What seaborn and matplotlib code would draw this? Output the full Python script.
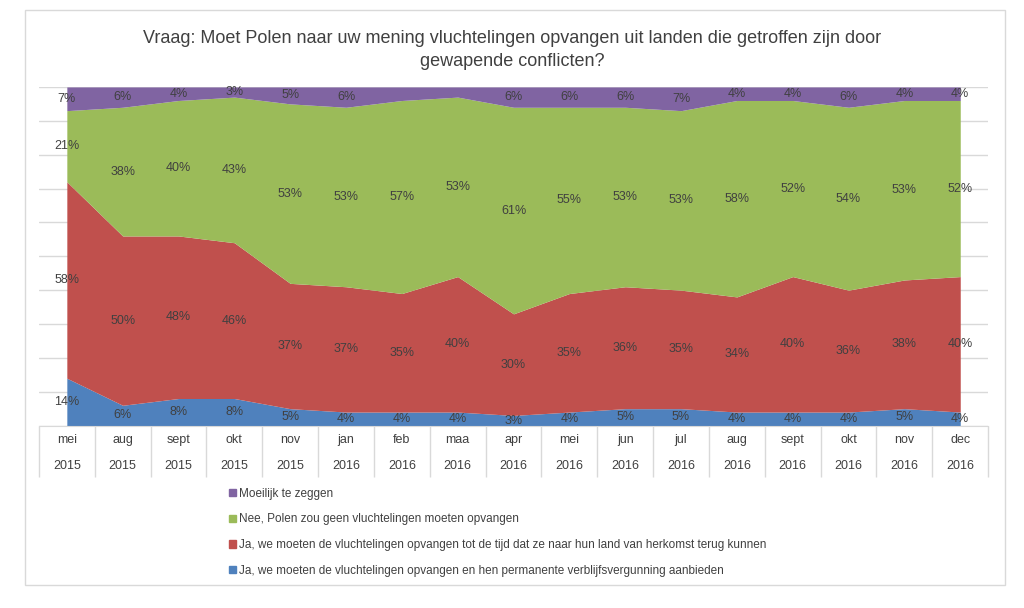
import matplotlib
matplotlib.use("Agg")
import matplotlib.pyplot as plt
import matplotlib.patches as mpatches
import matplotlib.transforms as mtransforms
import numpy as np
import seaborn as sns

# data
months = ['mei', 'aug', 'sept', 'okt', 'nov', 'jan', 'feb', 'maa', 'apr',
          'mei', 'jun', 'jul', 'aug', 'sept', 'okt', 'nov', 'dec']
years = ['2015'] * 5 + ['2016'] * 12
ja_permanent = [14, 6, 8, 8, 5, 4, 4, 4, 3, 4, 5, 5, 4, 4, 4, 5, 4]
ja_tijdelijk = [58, 50, 48, 46, 37, 37, 35, 40, 30, 35, 36, 35, 34, 40, 36, 38, 40]
nee = [21, 38, 40, 43, 53, 53, 57, 53, 61, 55, 53, 53, 58, 52, 54, 53, 52]
moeilijk = [7, 6, 4, 3, 5, 6, 4, 3, 6, 6, 6, 7, 4, 4, 6, 4, 4]
# feb and maa have no label for "Moeilijk te zeggen" in the original
moeilijk_shown = [True] * 6 + [False, False] + [True] * 9

series_names = ['Ja, we moeten de vluchtelingen opvangen en hen permanente verblijfsvergunning aanbieden',
                'Ja, we moeten de vluchtelingen opvangen tot de tijd dat ze naar hun land van herkomst terug kunnen',
                'Nee, Polen zou geen vluchtelingen moeten opvangen',
                'Moeilijk te zeggen']
colors = ['#4F81BD', '#C0504D', '#9BBB59', '#8064A2']

sns.set_style('white')
plt.rcParams['font.family'] = ['Liberation Sans', 'DejaVu Sans']

fig = plt.figure(figsize=(10.24, 6.08), dpi=100)
ax = fig.add_axes([0.038, 0.300, 0.927, 0.557])

x = np.arange(len(months))
series = [ja_permanent, ja_tijdelijk, nee, moeilijk]

ax.set_ylim(0, 100)
ax.set_xlim(-0.5, len(months) - 0.5)
ax.yaxis.grid(True, color='#d9d9d9', linewidth=1)
ax.set_yticks(np.arange(0, 101, 10))
ax.set_yticklabels([])
ax.tick_params(axis='y', length=0)
ax.set_axisbelow(True)

ax.stackplot(x, *series, colors=colors, linewidth=0, zorder=2)

# data labels in the middle of every band
bottom = np.zeros(len(months))
for k, vals in enumerate(series):
    vals = np.array(vals, dtype=float)
    mids = bottom + vals / 2
    for i, v in enumerate(vals):
        if k == 3 and not moeilijk_shown[i]:
            continue
        ax.text(x[i], mids[i], f'{int(v)}%', ha='center', va='center',
                fontsize=9, color='#404040', zorder=5)
    bottom += vals

# two-level category axis
ax.set_xticks(np.arange(-0.5, len(months), 1.0))
ax.set_xticklabels([])
ax.tick_params(axis='x', length=37, width=1, color='#d9d9d9', direction='out', bottom=True)
trans = mtransforms.blended_transform_factory(ax.transData, ax.transAxes)
for i in range(len(months)):
    ax.text(i, -0.043, months[i], transform=trans, ha='center', va='center',
            fontsize=9, color='#404040')
    ax.text(i, -0.12, years[i], transform=trans, ha='center', va='center',
            fontsize=9, color='#404040')

for s in ['top', 'right', 'left']:
    ax.spines[s].set_visible(False)
ax.spines['bottom'].set_color('#d9d9d9')

fig.text(0.5, 0.918, 'Vraag: Moet Polen naar uw mening vluchtelingen opvangen uit landen die getroffen zijn door\ngewapende conflicten?',
         ha='center', va='center', fontsize=13, color='#404040', linespacing=1.45)

handles = [mpatches.Patch(color=colors[k], label=series_names[k]) for k in [3, 2, 1, 0]]
fig.legend(handles=handles, loc='upper left', bbox_to_anchor=(0.213, 0.215),
           frameon=False, fontsize=8.5, handlelength=0.6, handleheight=0.6,
           handletextpad=0.3, labelspacing=1.15, labelcolor='#404040')

fig.add_artist(mpatches.Rectangle((25 / 1024, 1 - 585 / 608), 980 / 1024, 575 / 608,
                                  transform=fig.transFigure, fill=False,
                                  edgecolor='#d9d9d9', linewidth=1))

fig.savefig('out.png', dpi=100)
